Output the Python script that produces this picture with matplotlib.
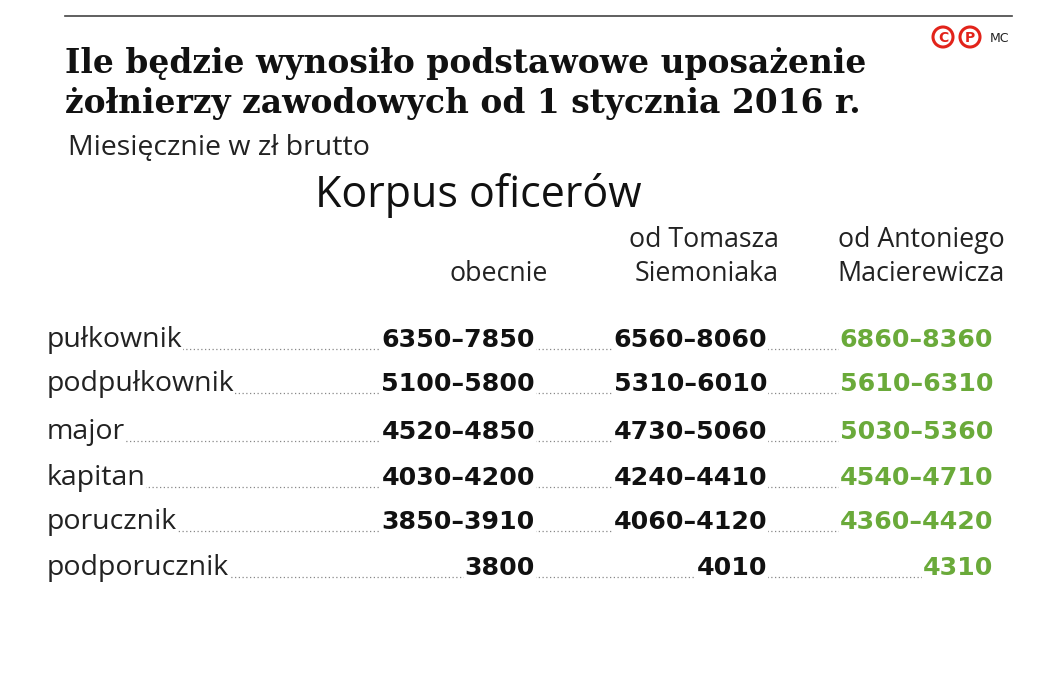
import matplotlib
matplotlib.use("Agg")
import matplotlib.pyplot as plt
from matplotlib.patches import Circle

ranks = ["pułkownik", "podpułkownik", "major", "kapitan", "porucznik", "podporucznik"]
obecnie = ["6350–7850", "5100–5800", "4520–4850", "4030–4200", "3850–3910", "3800"]
siemoniak = ["6560–8060", "5310–6010", "4730–5060", "4240–4410", "4060–4120", "4010"]
macierewicz = ["6860–8360", "5610–6310", "5030–5360", "4540–4710", "4360–4420", "4310"]
headers = [("obecnie",), ("od Tomasza", "Siemoniaka"), ("od Antoniego", "Macierewicza")]

fig = plt.figure(figsize=(10.61, 6.82), dpi=100)
ax = fig.add_axes([0, 0, 1, 1])
ax.set_xlim(0, 1061); ax.set_ylim(682, 0); ax.axis("off")

ax.plot([65, 1012], [16, 16], color="#444444", lw=1.2)
for cx, ch in [(943, "C"), (970, "P")]:
    ax.add_patch(Circle((cx, 37), 10, fill=False, ec="#e2231a", lw=2.2))
    ax.text(cx, 37.5, ch, color="#e2231a", fontsize=10, fontweight="bold", ha="center", va="center")
ax.text(990, 38, "MC", fontsize=9, color="#222222", va="center")

ax.text(65, 64, "Ile będzie wynosiło podstawowe uposażenie", family="DejaVu Serif",
        fontweight="bold", fontsize=23.7, va="center", color="#111111")
ax.text(65, 103, "żołnierzy zawodowych od 1 stycznia 2016 r.", family="DejaVu Serif",
        fontweight="bold", fontsize=23.7, va="center", color="#111111")
ax.text(68, 148, "Miesięcznie w zł brutto", family="Open Sans", fontsize=20.5, va="center", color="#222222")
ax.text(315, 195, "Korpus oficerów", family="Open Sans", fontsize=31, va="center", color="#111111")

hx = [548, 779, 1005]
for x, h in zip(hx, headers):
    lines = h if len(h) == 2 else ("",) + h
    ax.text(x, 240, lines[0], ha="right", va="center", family="Open Sans", fontsize=19.3, color="#222222")
    ax.text(x, 274, lines[1], ha="right", va="center", family="Open Sans", fontsize=19.3, color="#222222")

ys = [340, 384, 432, 478, 522, 568]
vx = [535, 767, 993]
cols = [(obecnie, "#111111"), (siemoniak, "#111111"), (macierewicz, "#6aaa3a")]
bb = dict(facecolor="white", edgecolor="none", pad=0.5)
for i, y in enumerate(ys):
    ax.plot([47, 993], [y + 9, y + 9], color="#888888", lw=0.9, ls=(0, (1, 2)), zorder=1)
    ax.text(47, y, ranks[i], va="center", family="Open Sans", fontsize=20.5, color="#222222",
            bbox=bb, zorder=2)
    for (vals, c), x in zip(cols, vx):
        ax.text(x, y, vals[i], ha="right", va="center", family="DejaVu Sans", fontweight="bold",
                fontsize=18.2, color=c, bbox=bb, zorder=2)

fig.savefig("out.png", dpi=100, facecolor="white")
